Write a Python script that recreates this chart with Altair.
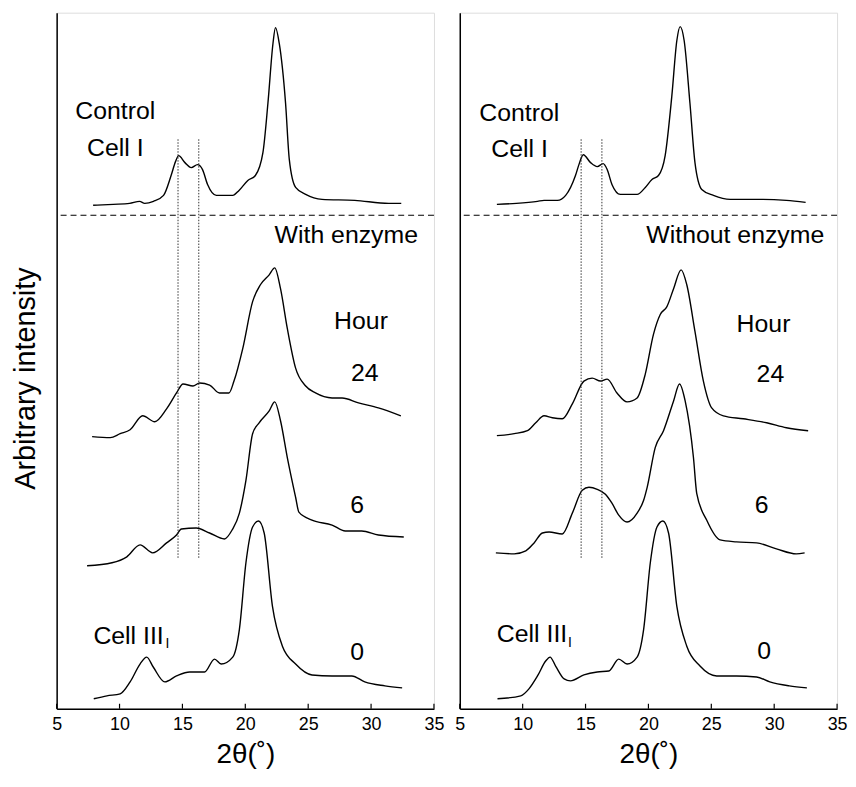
import altair as alt
import pandas as pd

FONT = "Liberation Sans"
TICKS = [5, 10, 15, 20, 25, 30, 35]
X_TITLE = "2θ(˚)"
Y_TITLE = "Arbitrary intensity"
NOTES = ["With enzyme", "Without enzyme"]
NOTE_X = [33.73, 33.98]
DASH_Y = 496
VLINES = [14.65, 16.3]
VLINE_RANGE = [151, 574]

# ---- left panel (with enzyme) ----
L_CTRL_X = [7.9, 9.5, 10.8, 11.6, 12.0, 12.7, 13.5, 14.1, 14.45, 14.7, 15.2, 15.7, 16.2, 16.6, 17.0, 17.7, 19.0, 19.5, 20.2, 20.8, 21.4, 21.8, 22.2, 22.4, 22.7, 23.2, 23.5, 24.0, 24.8, 26.1, 28.7, 31.4, 32.4]
L_CTRL_Y = [506, 507, 508, 510, 508, 510, 516, 536, 550, 556, 549, 544, 547, 542, 527, 516, 516, 521, 531, 536, 559, 609, 669, 685, 669, 609, 552, 524, 517, 512, 511, 508, 508]
L_24_X = [7.82, 9.26, 10.05, 10.84, 11.84, 12.8, 13.74, 14.53, 15.05, 15.84, 16.37, 17.16, 17.95, 18.7, 19.1, 19.8, 20.58, 21.2, 21.9, 22.34, 22.8, 23.34, 24.0, 24.8, 25.58, 26.9, 27.7, 29.0, 30.58, 32.37]
L_24_Y = [273, 272, 276, 280, 294, 288, 301, 317, 326, 324, 327, 325, 317, 317, 329, 362, 409, 426, 436, 443, 422, 382, 342, 324, 317, 312, 312, 307, 302, 294]
L_6_X = [7.42, 9.4, 10.58, 11.63, 12.63, 13.74, 14.53, 14.92, 16.1, 17.16, 18.34, 18.95, 19.53, 20.05, 20.58, 21.1, 21.9, 22.34, 22.8, 23.34, 24.0, 24.26, 25.3, 26.9, 27.95, 29.26, 30.58, 32.6]
L_6_Y = [143, 146, 152, 164, 156, 166, 174, 180, 181, 176, 170, 179, 196, 229, 276, 287, 299, 308, 289, 252, 212, 197, 189, 184, 178, 178, 174, 172]
L_0_X = [7.95, 9.0, 10.05, 10.84, 11.63, 12.16, 12.68, 13.6, 14.53, 15.58, 16.76, 17.55, 18.08, 19.0, 19.53, 20.05, 20.58, 21.05, 21.5, 22.16, 22.95, 24.0, 25.3, 26.9, 28.47, 29.5, 31.1, 32.47]
L_0_Y = [9, 12, 14, 26, 44, 51, 41, 26, 32, 36, 36, 49, 44, 51, 79, 146, 182, 188, 176, 102, 62, 44, 33, 32, 32, 26, 22, 20]

# ---- right panel (without enzyme) ----
R_CTRL_X = [7.95, 9.5, 11.18, 11.7, 12.76, 13.42, 14.2, 14.5, 14.82, 15.4, 15.93, 16.4, 16.72, 17.1, 17.77, 19.1, 19.75, 20.28, 20.8, 21.33, 21.86, 22.26, 22.52, 22.84, 23.3, 23.7, 24.24, 25.17, 26.5, 29.1, 30.97, 32.5]
R_CTRL_Y = [507, 508, 510, 511, 511, 516, 536, 548, 557, 549, 545, 548, 542, 527, 517, 517, 524, 532, 536, 556, 616, 672, 686, 672, 609, 549, 522, 516, 512, 512, 511, 509]
R_24_X = [7.95, 9.33, 10.38, 11.04, 11.7, 12.36, 13.15, 13.95, 14.87, 15.53, 16.19, 16.72, 17.5, 18.3, 19.1, 19.75, 20.4, 20.94, 21.47, 22.0, 22.6, 23.05, 23.7, 24.37, 25.03, 25.96, 27.54, 29.4, 30.97, 32.7]
R_24_Y = [274, 276, 279, 287, 294, 292, 291, 306, 329, 332, 329, 331, 317, 308, 312, 336, 376, 396, 404, 422, 441, 426, 379, 329, 302, 294, 291, 287, 282, 279]
R_6_X = [7.87, 9.33, 10.25, 10.91, 11.57, 12.1, 13.15, 13.95, 14.74, 15.27, 15.93, 16.58, 17.1, 17.64, 18.3, 19.1, 19.62, 19.9, 20.54, 21.2, 22.0, 22.47, 22.92, 23.58, 23.84, 24.63, 25.7, 27.0, 28.6, 30.18, 31.76, 32.42]
R_6_Y = [156, 155, 158, 166, 176, 177, 175, 196, 219, 222, 220, 215, 206, 194, 187, 196, 209, 222, 262, 279, 309, 326, 309, 252, 216, 189, 169, 167, 166, 160, 155, 156]
R_0_X = [8.0, 9.85, 10.5, 11.18, 11.83, 12.18, 12.62, 13.3, 13.8, 14.87, 15.93, 16.85, 17.64, 18.3, 19.1, 19.62, 20.15, 20.68, 21.15, 21.6, 22.26, 23.05, 24.1, 25.43, 27.0, 28.6, 29.65, 31.2, 32.6]
R_0_Y = [9, 12, 19, 32, 47, 51, 42, 29, 27, 33, 36, 37, 49, 44, 51, 79, 146, 182, 188, 176, 102, 62, 42, 32, 32, 31, 26, 22, 20]

# label texts and anchor positions (data units)
CENTER_TEXT = ["Control", "Cell I", "Hour", "24", "6", "0"]
CENTER_X = [[9.66, 9.66, 29.2, 29.5, 28.9, 28.9], [9.73, 9.75, 29.15, 29.7, 29.0, 29.2]]
CENTER_Y = [[601, 564, 389, 337, 204, 56], [599, 563, 386, 336, 204, 57]]
CELL3_TEXT = "Cell III"
CELL3_X = [7.92, 7.95]
CELL3_Y = [72, 74]
SUB_TEXT = "I"
SUB_X = [13.65, 13.6]
SUB_Y = [64, 65]

xscale = alt.Scale(domain=[5, 35], nice=False, zero=False)
yscale = alt.Scale(domain=[-1, 700], nice=False, zero=False)


def curves_df(pairs):
    rows = []
    for name, xs, ys in pairs:
        for i, (a, b) in enumerate(zip(xs, ys)):
            rows.append({"curve": name, "idx": i, "x": a, "y": b})
    return pd.DataFrame(rows)


def panel(k, pairs, show_title):
    xaxis = alt.Axis(values=TICKS, ticks=False, grid=False, labelFontSize=18, labelFont=FONT,
                     labelColor="black", labelPadding=7, labelFlush=False, labelOverlap=False,
                     title=X_TITLE, titleFontSize=28, titleFont=FONT, titleFontWeight="normal",
                     titleColor="black", titlePadding=7, domainColor="black", domainWidth=1.5)
    if show_title:
        yaxis = alt.Axis(title=Y_TITLE, labels=False, ticks=False, grid=False, domainColor="black",
                         domainWidth=1.5, titleFontSize=29, titleFont=FONT, titleFontWeight="normal",
                         titleColor="black", titleX=-31, titleY=368, titleAlign="center",
                         titleBaseline="middle", titleAngle=270)
    else:
        yaxis = alt.Axis(title="", labels=False, ticks=False, grid=False, domainColor="black",
                         domainWidth=1.5)

    def X(field):
        return alt.X(field, scale=xscale, axis=xaxis)

    def Y(field):
        return alt.Y(field, scale=yscale, axis=yaxis)

    lines = alt.Chart(curves_df(pairs)).mark_line(
        color="black", strokeWidth=1.4, interpolate="monotone"
    ).encode(x=X("x:Q"), y=Y("y:Q"), detail="curve:N", order="idx:Q")
    dashed = alt.Chart(pd.DataFrame({"y": [DASH_Y]})).mark_rule(
        color="black", strokeWidth=1.2, strokeDash=[6, 4]
    ).encode(y=Y("y:Q"))
    dotted = alt.Chart(pd.DataFrame({"x": VLINES, "y": [VLINE_RANGE[0]] * 2, "y1": [VLINE_RANGE[1]] * 2})).mark_rule(
        color="#333333", strokeWidth=1, strokeDash=[1.5, 1.5]
    ).encode(x=X("x:Q"), y=Y("y:Q"), y2="y1:Q")
    ticks = alt.Chart(pd.DataFrame({"x": TICKS, "y": [-1] * len(TICKS), "y1": [4] * len(TICKS)})).mark_rule(
        color="black", strokeWidth=1.2
    ).encode(x=X("x:Q"), y=Y("y:Q"), y2="y1:Q")

    ctext = pd.DataFrame({"x": CENTER_X[k], "y": CENTER_Y[k], "t": CENTER_TEXT})
    center = alt.Chart(ctext).mark_text(font=FONT, fontSize=25, align="center", baseline="middle", color="black").encode(
        x=X("x:Q"), y=Y("y:Q"), text="t:N")
    note = alt.Chart(pd.DataFrame({"x": [NOTE_X[k]], "y": [476], "t": [NOTES[k]]})).mark_text(
        font=FONT, fontSize=25, align="right", baseline="middle", color="black").encode(
        x=X("x:Q"), y=Y("y:Q"), text="t:N")
    cell3 = alt.Chart(pd.DataFrame({"x": [CELL3_X[k]], "y": [CELL3_Y[k]], "t": [CELL3_TEXT]})).mark_text(
        font=FONT, fontSize=25, align="left", baseline="middle", color="black").encode(
        x=X("x:Q"), y=Y("y:Q"), text="t:N")
    sub = alt.Chart(pd.DataFrame({"x": [SUB_X[k]], "y": [SUB_Y[k]], "t": [SUB_TEXT]})).mark_text(
        font=FONT, fontSize=14, align="left", baseline="middle", color="black").encode(
        x=X("x:Q"), y=Y("y:Q"), text="t:N")

    return alt.layer(lines, dashed, dotted, ticks, center, note, cell3, sub).properties(width=380, height=701)


left = panel(0, [("ctrl", L_CTRL_X, L_CTRL_Y), ("h24", L_24_X, L_24_Y), ("h6", L_6_X, L_6_Y), ("h0", L_0_X, L_0_Y)], True)
right = panel(1, [("ctrl", R_CTRL_X, R_CTRL_Y), ("h24", R_24_X, R_24_Y), ("h6", R_6_X, R_6_Y), ("h0", R_0_X, R_0_Y)], False)

chart = alt.hconcat(left, right, spacing=26, bounds="flush").properties(
    padding={"left": 3, "top": 1, "right": 0, "bottom": 0}
).configure_view(
    stroke="#555555", strokeWidth=1.5
).configure_axis(
    labelFontSize=18, labelFont=FONT, labelColor="black"
).configure_axisX(
    labelFontSize=18, labelFont=FONT, labelColor="black"
).configure(background="white")

chart.save("out.html", embed_options={"renderer": "svg", "actions": False})
